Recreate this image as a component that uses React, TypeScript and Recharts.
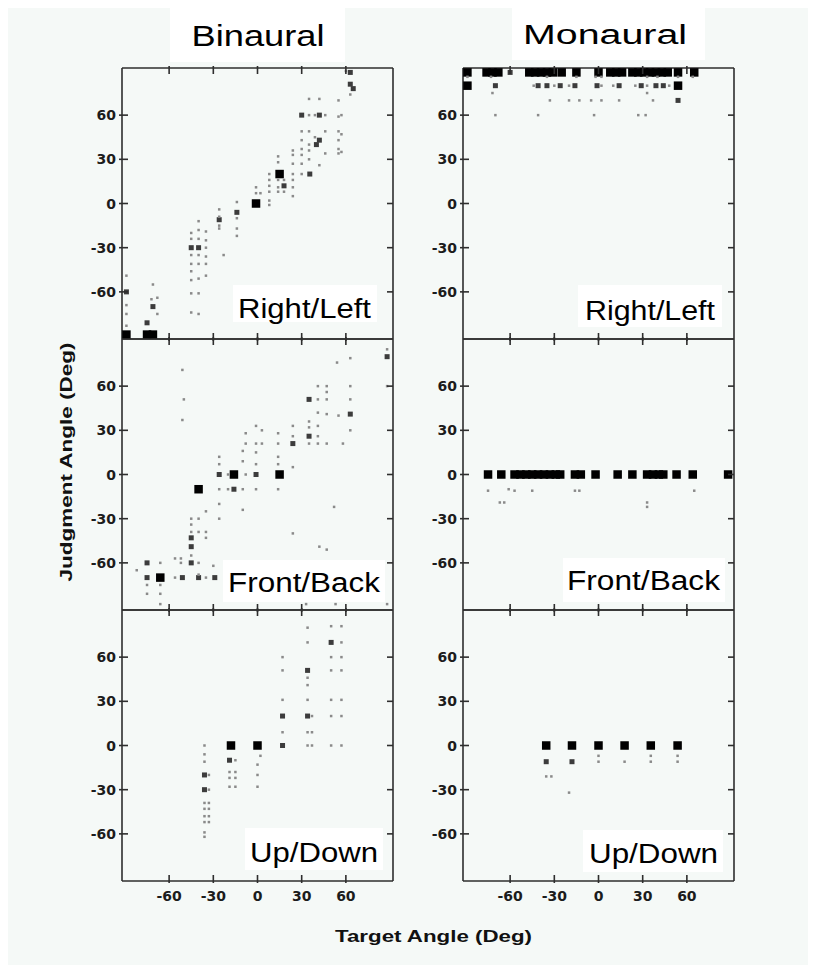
import React from 'react';
import { ScatterChart, Scatter, XAxis, YAxis } from 'recharts';

// [target angle, judgment angle, weight]  weight: 3 = many responses, 2 = some, 1 = few
type Pt = [number, number, number];

const angleTicks = [-60, -30, 0, 30, 60];
const angleDomain: [number, number] = [-92, 92];

const columnTitles = ['Binaural', 'Monaural'];
const rowTitles = ['Right/Left', 'Front/Back', 'Up/Down'];
const xTitle = 'Target Angle (Deg)';
const yTitle = 'Judgment Angle (Deg)';

const binauralRightLeft: Pt[] = [
  [-1, 0, 3], [15, 20, 3], [-89, -89, 3], [-75, -89, 3], [-71, -89, 3],
  [35.5, 20, 2], [-75, -81, 2], [-71, -70, 2], [63, 81, 2], [63, 89, 2], [65, 78, 2], [-14, -6, 2],
  [-26, -11, 2], [-45, -30, 2], [-40, -30, 2], [40, 40, 2], [42, 43, 2], [18, 12, 2], [-89, -60, 2],
  [30, 60, 2], [42, 60, 2],
  [-89, -49, 1], [-89, -69, 1], [-89, -75, 1], [-89, -83, 1], [-71, -55, 1], [-72, -65, 1], [-68, -75, 1], [-68, -64, 1],
  [-45, -20, 1], [-45, -24, 1], [-45, -35, 1], [-45, -41, 1], [-45, -46, 1], [-45, -52, 1], [-45, -61, 1], [-45, -74, 1],
  [-40, -12, 1], [-40, -18, 1], [-40, -24, 1], [-40, -35, 1], [-40, -41, 1], [-40, -51, 1], [-40, -61, 1], [-40, -75, 1],
  [-35, -19, 1], [-35, -25, 1], [-35, -30, 1], [-35, -36, 1], [-35, -41, 1], [-35, -49, 1],
  [-26, -4, 1], [-26, -9, 1], [-26, -15, 1], [-26, -17, 1], [-23, -35, 1],
  [-14, 1, 1], [-14, -10, 1], [-14, -17, 1], [-14, -22, 1], [-1, 11, 1], [-1, 7, 1], [2, 7, 1],
  [8, 20, 1], [8, 16, 1], [8, 12, 1], [8, 8, 1], [8, 2, 1], [8, -1, 1],
  [14, 32, 1], [14, 28, 1], [14, 16, 1], [14, 11, 1], [14, 8, 1], [18, 16, 1], [18, 8, 1],
  [24, 36, 1], [24, 33, 1], [24, 27, 1], [24, 20, 1], [24, 16, 1], [24, 11, 1], [24, 5, 1],
  [30, 49, 1], [30, 43, 1], [30, 37, 1], [30, 33, 1], [30, 27, 1], [30, 20, 1],
  [35, 71, 1], [35, 60, 1], [35, 49, 1], [35, 40, 1], [35, 36, 1], [35, 30, 1],
  [39, 60, 1], [39, 45, 1], [42, 71, 1], [42, 26, 1], [46, 60, 1], [46, 49, 1], [46, 34, 1],
  [55, 70, 1], [55, 59, 1], [55, 49, 1], [55, 43, 1], [55, 37, 1], [55, 34, 1],
  [57, 60, 1], [57, 47, 1], [57, 35, 1], [63, 74, 1], [60, 90, 1],
];

const binauralFrontBack: Pt[] = [
  [-16, 0, 3], [15, 0, 3], [-66, -70, 3], [-40, -10, 3],
  [-1, 0, 2], [-26, 0, 2], [-75, -60, 2], [-75, -70, 2], [-51, -70, 2], [-16, -10, 2], [-45, -60, 2],
  [-40, -70, 2], [-29, -70, 2], [35, 51, 2], [63, 41, 2], [88, 80, 2], [-45, -43, 2], [-45, -49, 2],
  [24, 21, 2], [35, 26, 2],
  [-75, -75, 1], [-75, -81, 1], [-66, -60, 1], [-66, -75, 1], [-66, -81, 1], [-56, -57, 1], [-56, -70, 1],
  [-52, -57, 1], [-52, -60, 1], [-45, -30, 1], [-45, -34, 1], [-45, -39, 1], [-45, -55, 1],
  [-40, -30, 1], [-40, -39, 1], [-40, -60, 1], [-40, -68, 1], [-35, -25, 1], [-35, -39, 1], [-35, -43, 1],
  [-35, -70, 1], [-30, -62, 1], [-26, 12, 1], [-26, 7, 1], [-26, -10, 1], [-26, -20, 1], [-26, -30, 1],
  [-20, -10, 1], [-20, 0, 1], [-10, 16, 1], [-10, 9, 1], [-10, -10, 1], [-10, -24, 1], [-8, 28, 1],
  [-8, 21, 1], [-8, 0, 1], [-1, 33, 1], [-1, 21, 1], [-1, 15, 1], [-1, 7, 1], [-1, -10, 1], [3, 30, 1],
  [3, 21, 1], [14, 28, 1], [14, 21, 1], [14, 12, 1], [14, 7, 1], [14, -10, 1], [24, 33, 1], [24, 26, 1],
  [24, 5, 1], [24, -40, 1], [35, 36, 1], [35, 32, 1], [35, 21, 1], [41, 60, 1], [41, 51, 1], [41, 42, 1],
  [41, 33, 1], [41, 26, 1], [41, 21, 1], [47, 60, 1], [47, 56, 1], [47, 51, 1], [47, 41, 1], [47, 21, 1],
  [63, 79, 1], [63, 60, 1], [63, 51, 1], [63, 30, 1], [88, 85, 1], [88, 60, 1],
  [-51, 71, 1], [-50, 51, 1], [-51, 37, 1], [52, -22, 1], [42, -49, 1], [47, -51, 1], [54, 76, 1],
  [55, 40, 1], [58, 21, 1], [-82, -65, 1], [33, -88, 1], [53, -88, 1], [88, -88, 1], [-66, -88, 1],
];

const binauralUpDown: Pt[] = [
  [-18, 0, 3], [0, 0, 3],
  [17, 0, 2], [-19, -10, 2], [-36, -20, 2], [-36, -30, 2], [17, 20, 2], [34, 20, 2], [34, 51, 2], [50, 70, 2],
  [-36, 0, 1], [-36, -6, 1], [-36, -11, 1], [-36, -39, 1], [-36, -43, 1], [-36, -48, 1], [-36, -52, 1],
  [-36, -59, 1], [-36, -62, 1], [-33, -20, 1], [-33, -30, 1], [-33, -39, 1], [-33, -43, 1], [-33, -48, 1],
  [-33, -52, 1], [-19, -18, 1], [-19, -22, 1], [-19, -28, 1], [-15, -10, 1], [-15, -18, 1], [-15, -22, 1],
  [-15, -28, 1], [2, -7, 1], [0, -13, 1], [0, -20, 1], [0, -28, 1], [17, 60, 1], [17, 51, 1], [17, 31, 1],
  [17, 9, 1], [34, 80, 1], [34, 70, 1], [34, 46, 1], [34, 41, 1], [34, 31, 1], [34, 9, 1], [34, 0, 1],
  [37, 20, 1], [37, 9, 1], [37, 0, 1], [50, 81, 1], [50, 60, 1], [50, 51, 1], [50, 31, 1], [50, 20, 1],
  [50, 0, 1], [57, 81, 1], [57, 70, 1], [57, 60, 1], [57, 51, 1], [57, 31, 1], [57, 20, 1], [57, 0, 1],
];

const monauralRightLeft: Pt[] = [
  [-89, 89, 3], [-76, 89, 3], [-72, 89, 3], [-68, 89, 3], [-47, 89, 3], [-43, 89, 3], [-39, 89, 3],
  [-35, 89, 3], [-31, 89, 3], [-25, 89, 3], [-15, 89, 3], [0, 89, 3], [8, 89, 3], [12, 89, 3],
  [16, 89, 3], [23, 89, 3], [27, 89, 3], [31, 89, 3], [35, 89, 3], [39, 89, 3], [43, 89, 3],
  [47, 89, 3], [54, 89, 3], [65, 89, 3], [-89, 80, 3], [54, 80, 3],
  [-60, 89, 2], [-70, 80, 2], [-41, 80, 2], [-35, 80, 2], [-26, 80, 2], [-16, 80, 2], [-1, 80, 2],
  [14, 80, 2], [29, 80, 2], [39, 80, 2], [44, 80, 2], [54, 70, 2],
  [-44, 80, 1], [-30, 80, 1], [-20, 80, 1], [2, 80, 1], [10, 80, 1], [25, 80, 1], [33, 80, 1], [48, 80, 1],
  [-89, 86, 1], [-73, 86, 1], [-35, 86, 1], [-15, 86, 1], [-2, 86, 1], [2, 86, 1], [33, 86, 1], [40, 86, 1],
  [54, 86, 1], [64, 86, 1], [-33, 70, 1], [-20, 70, 1], [-13, 70, 1], [-5, 70, 1], [2, 70, 1], [14, 70, 1],
  [37, 70, 1], [-72, 75, 1], [33, 75, 1], [-70, 60, 1], [-41, 60, 1], [-3, 60, 1], [27, 60, 1], [32, 60, 1],
];

const monauralFrontBack: Pt[] = [
  [-75, 0, 3], [-66, 0, 3], [-57, 0, 3], [-53, 0, 3], [-49, 0, 3], [-45, 0, 3], [-41, 0, 3], [-37, 0, 3],
  [-33, 0, 3], [-29, 0, 3], [-26, 0, 3], [-16, 0, 3], [-12, 0, 3], [-2, 0, 3], [13, 0, 3], [23, 0, 3],
  [33, 0, 3], [37, 0, 3], [41, 0, 3], [44, 0, 3], [53, 0, 3], [64, 0, 3], [88, 0, 3],
  [-75, -11, 1], [-57, -11, 1], [-45, -11, 1], [-16, -11, 1], [-13, -11, 1], [65, -11, 1], [-67, -19, 1],
  [-64, -19, 1], [33, -19, 1], [33, -22, 1], [-61, -10, 1],
];

const monauralUpDown: Pt[] = [
  [-35.5, 0, 3], [-18, 0, 3], [0, 0, 3], [17.7, 0, 3], [35.5, 0, 3], [53.7, 0, 3],
  [-35.5, -11, 2], [-18, -11, 2],
  [0, -7, 1], [0, -11, 1], [17.7, -11, 1], [35.5, -7, 1], [35.5, -11, 1], [53.7, -7, 1], [53.7, -11, 1],
  [-35.5, -21, 1], [-20, -32, 1], [-32, -21, 1],
];

const BG = '#f5f9f7';
const AXIS = '#2e2e2e';
const TICK_LEN = 6;

const markStyle: Record<number, [number, string]> = {
  3: [8.5, '#000000'],
  2: [5, '#3c3c3c'],
  1: [2.5, '#8a8a8a'],
};

function Square(props: any) {
  const { cx, cy, payload } = props;
  const [s, c] = markStyle[payload.w] || markStyle[1];
  return <rect x={cx - s / 2} y={cy - s / 2} width={s} height={s} fill={c} />;
}

// inward tick marks drawn at the axis line, optional bold label outside
function makeTick(side: 'left' | 'right' | 'top' | 'bottom', label: boolean) {
  return (p: any) => {
    const { x, y, payload } = p;
    const d = TICK_LEN;
    const seg =
      side === 'left' ? [x - 3, y, x + d, y] :
      side === 'right' ? [x - d, y, x, y] :
      side === 'top' ? [x, y - 2, x, y + d] : [x, y - d, x, y + 2];
    return (
      <g>
        <line x1={seg[0]} y1={seg[1]} x2={seg[2]} y2={seg[3]} stroke={AXIS} strokeWidth={1.6} />
        {label && (
          <text
            x={side === 'left' ? x - 6 : x}
            y={side === 'left' ? y + 5 : y + 20}
            textAnchor={side === 'left' ? 'end' : 'middle'}
            fontSize={14} fontWeight={700} fontFamily="DejaVu Sans" fill="#1c1c1c"
          >
            {payload.value}
          </text>
        )}
      </g>
    );
  };
}

function Panel({ data, left, top, showX }: { data: Pt[]; left: number; top: number; showX: boolean }) {
  const rows = data.map(([x, y, w]) => ({ x, y, w }));
  return (
    <div style={{ position: 'absolute', left, top }}>
      <ScatterChart width={316} height={306} margin={{ top: 4, right: 4, bottom: 0, left: 0 }}>
        <XAxis
          xAxisId="b" orientation="bottom" type="number" dataKey="x"
          domain={angleDomain} ticks={angleTicks} allowDataOverflow
          height={30} tickLine={false} tickSize={0} tickMargin={0}
          tick={makeTick('bottom', showX)} interval={0}
          stroke={AXIS} strokeWidth={1.6}
        />
        <XAxis
          xAxisId="t" orientation="top" type="number" dataKey="x"
          domain={angleDomain} ticks={angleTicks} allowDataOverflow
          height={1} tickLine={false} tickSize={0} tickMargin={0}
          tick={makeTick('top', false)} interval={0}
          stroke={AXIS} strokeWidth={1.6}
        />
        <YAxis
          yAxisId="l" orientation="left" type="number" dataKey="y"
          domain={angleDomain} ticks={angleTicks} allowDataOverflow
          width={40} tickLine={false} tickSize={0} tickMargin={0}
          tick={makeTick('left', true)} interval={0}
          stroke={AXIS} strokeWidth={1.6}
        />
        <YAxis
          yAxisId="r" orientation="right" type="number" dataKey="y"
          domain={angleDomain} ticks={angleTicks} allowDataOverflow
          width={1} tickLine={false} tickSize={0} tickMargin={0}
          tick={makeTick('right', false)} interval={0}
          stroke={AXIS} strokeWidth={1.6}
        />
        <Scatter xAxisId="b" yAxisId="l" data={rows} shape={Square} isAnimationActive={false} />
      </ScatterChart>
    </div>
  );
}

// white label boxes: [x, y, w, h, textX, baseline, fontSize, textLength]
const titleBoxes = [
  [170, 5, 175, 57, 191.5, 46, 29, 133],
  [512, 5, 193, 55, 523, 44, 27, 164],
];
const rowBoxes = [
  [[233, 285, 144, 37, 238, 318, 27, 133], [578, 285, 144, 42, 585, 320, 27, 130]],
  [[223, 560, 162, 42, 228, 592, 27, 152], [563, 558, 162, 44, 567, 590, 27, 153]],
  [[245, 828, 138, 42, 250, 862, 27, 128], [583, 830, 140, 42, 589, 863, 27, 129]],
];

function Label({ b, text }: { b: number[]; text: string }) {
  const [x, y, w, h, tx, ty, fs, tl] = b;
  return (
    <g>
      <rect x={x} y={y} width={w} height={h} fill="#ffffff" />
      <text x={tx} y={ty} fontSize={fs} fontFamily="Liberation Sans, Arial" fill="#000"
        textLength={tl} lengthAdjust="spacingAndGlyphs">{text}</text>
    </g>
  );
}

const panels = [
  [binauralRightLeft, monauralRightLeft],
  [binauralFrontBack, monauralFrontBack],
  [binauralUpDown, monauralUpDown],
];
const colLeft = [82, 423];
const rowTop = [63, 334, 605];

export default function App() {
  return (
    <div style={{ position: 'relative', width: 816, height: 973, margin: -8, background: BG, overflow: 'hidden' }}>
      {panels.map((row, r) =>
        row.map((d, c) => (
          <Panel key={`${r}-${c}`} data={d} left={colLeft[c]} top={rowTop[r]} showX={r === 2} />
        ))
      )}
      <svg width={816} height={973} style={{ position: 'absolute', left: 0, top: 0, pointerEvents: 'none' }}>
        {titleBoxes.map((b, i) => <Label key={i} b={b} text={columnTitles[i]} />)}
        {rowBoxes.map((pair, r) => pair.map((b, c) => <Label key={`${r}${c}`} b={b} text={rowTitles[r]} />))}
        <text x={72} y={462} transform="rotate(-90 72 462)" textAnchor="middle" fontSize={16.5} fontWeight={700}
          fontFamily="Liberation Sans, Arial" fill="#111" textLength={239} lengthAdjust="spacingAndGlyphs">{yTitle}</text>
        <text x={433.5} y={942} textAnchor="middle" fontSize={16.5} fontWeight={700}
          fontFamily="Liberation Sans, Arial" fill="#111" textLength={197} lengthAdjust="spacingAndGlyphs">{xTitle}</text>
      </svg>
    </div>
  );
}
